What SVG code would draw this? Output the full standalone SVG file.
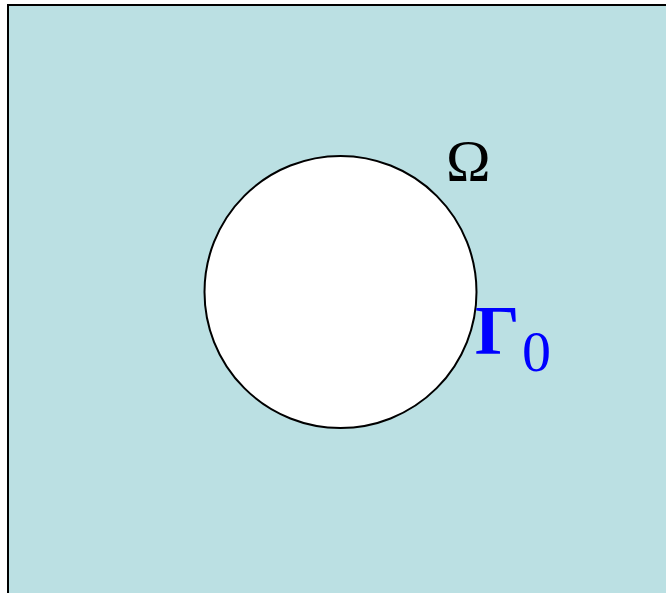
<svg xmlns="http://www.w3.org/2000/svg" width="666" height="593" viewBox="0 0 666 593">
<style>
.lbl{font-family:"Liberation Serif","DejaVu Serif",serif;}
</style>
<rect width="666" height="593" fill="#ffffff"/>
<g id="domain">
<rect x="8" y="5" width="670" height="600" fill="#bbe0e3" stroke="#000" stroke-width="2"/>
</g>
<g id="hole">
<circle cx="340.5" cy="292" r="136" fill="#ffffff" stroke="#000" stroke-width="2"/>
</g>
<g id="labels">
<text class="lbl" x="446" y="181" font-size="60" fill="#000">Ω</text>
<text class="lbl" x="475" y="354" font-size="70" font-weight="bold" fill="#0000ff">Γ<tspan x="522" y="371" font-size="58" font-weight="normal">0</tspan></text>
</g>
</svg>
